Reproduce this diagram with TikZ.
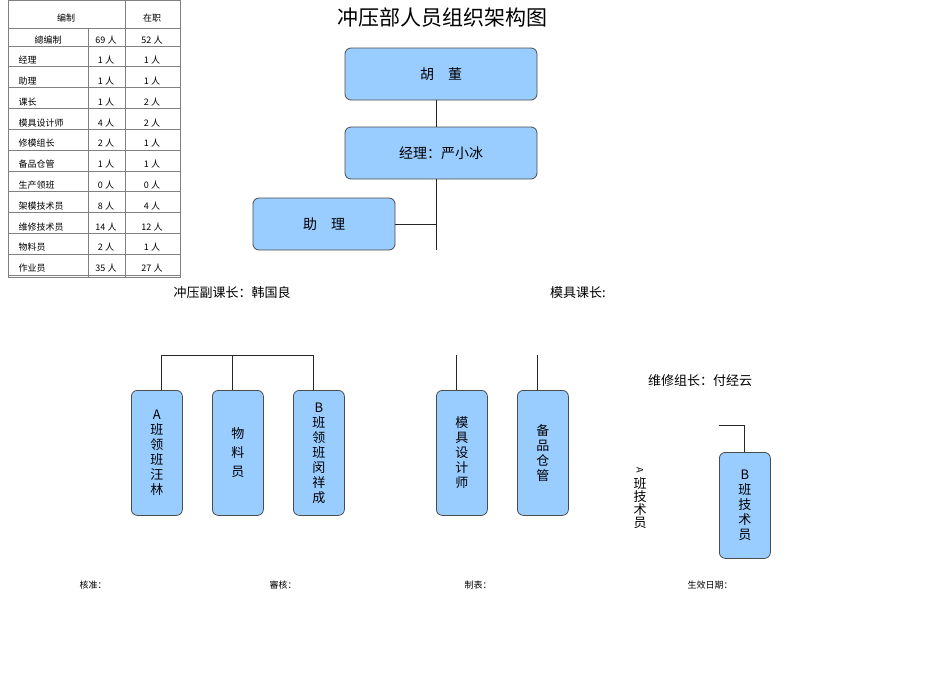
\documentclass[tikz,border=0pt]{standalone}
\usepackage{fontspec}
\setmainfont{Noto Sans CJK SC}
\begin{document}
\begin{tikzpicture}[x=1pt,y=-1pt,
  box/.style={draw=black!70,line width=0.8pt,fill=boxblue,rounded corners=6pt},
  vbox/.style={box,minimum width=51pt,minimum height=125pt,align=center,font=\fontsize{13}{15}\selectfont,inner sep=2pt,anchor=north west},
  ln/.style={line width=0.9pt,black!85},
  tl/.style={line width=0.4pt,black!50},
  tt/.style={font=\fontsize{9}{10}\selectfont}]
\definecolor{boxblue}{RGB}{153,204,255}
\useasboundingbox (0,0) rectangle (950,672);
% table
\draw[tl] (8,0) rectangle (180,277);
\draw[tl] (125,0) -- (125,277);
\draw[tl] (88,28) -- (88,277);
\foreach \y in {28,46,66,87,108,129,150,171,191,212,233,254,275} \draw[tl] (8,\y)--(180,\y);
\node[tt] at (66,18) {编制};
\node[tt] at (152,18) {在职};
\node[tt] at (48,40) {總编制}; \node[tt] at (106,40) {69 人}; \node[tt] at (152,40) {52 人};
\foreach \n/\a/\b [count=\i] in {经理/1/1,助理/1/1,课长/1/2,模具设计师/4/2,修模组长/2/1,备品仓管/1/1,生产领班/0/0,架模技术员/8/4,维修技术员/14/12,物料员/2/1,作业员/35/27}{
  \node[tt,anchor=west] at (15,{39.5+\i*20.8}) {\n};
  \node[tt] at (106,{39.5+\i*20.8}) {\a\ 人};
  \node[tt] at (152,{39.5+\i*20.8}) {\b\ 人};
}
% title
\node[font=\fontsize{21}{24}\selectfont] (title) at (442,18) {冲压部人员组织架构图};
% top boxes
\node[box,minimum width=192pt,minimum height=52pt,font=\fontsize{14}{16}\selectfont] (hu) at (441,74) {胡\quad 董};
\node[box,minimum width=192pt,minimum height=52pt,font=\fontsize{14}{16}\selectfont] (jl) at (441,153) {经理：严小冰};
\node[box,minimum width=142pt,minimum height=52pt,font=\fontsize{14}{16}\selectfont] (zl) at (324,224) {助\quad 理};
\coordinate (vend) at (436,250);
\draw[ln] (436,100) -- (436,127);
\draw[ln] (436,179) -- (vend);
\draw[ln] (zl.east) -- (436,224);
% labels
\node[font=\fontsize{13}{15}\selectfont] (fk) at (232,293) {冲压副课长：韩国良};
\node[font=\fontsize{13}{15}\selectfont] (mk) at (578,293) {模具课长:};
\node[font=\fontsize{13}{15}\selectfont] (wx) at (700,381) {维修组长：付经云};
% group 1
\node[vbox] (a) at (131,390) {A\\班\\领\\班\\汪\\林};
\node[vbox] (w) at (212,390) {物\\[4pt]料\\[4pt]员};
\node[vbox] (b) at (293,390) {B\\班\\领\\班\\闵\\祥\\成};
\coordinate (g1) at (161,355); \coordinate (g2) at (232,355); \coordinate (g3) at (313,355);
\draw[ln] (g1) -- (g3);
\draw[ln] (g1) -- (a.north -| g1);
\draw[ln] (g2) -- (w.north -| g2);
\draw[ln] (g3) -- (b.north -| g3);
% group 2
\node[vbox] (m) at (436,390) {模\\具\\设\\计\\师};
\node[vbox] (p) at (517,390) {备\\品\\仓\\管};
\coordinate (g4) at (456,355); \coordinate (g5) at (537,355);
\draw[ln] (g4) -- (m.north -| g4);
\draw[ln] (g5) -- (p.north -| g5);
% maintenance
\node[vbox,minimum height=106pt] (bt) at (719,452) {B\\班\\技\\术\\员};
\coordinate (c1) at (719,425);
\draw[ln] (c1) -- (bt.north |- c1) -- (bt.north);
\node[font=\fontsize{9}{10}\selectfont,rotate=-90] (aa) at (640,470) {A};
\node[font=\fontsize{13}{15}\selectfont,align=center,anchor=north] (at) at (640,474) {班\\[-2pt]技\\[-2pt]术\\[-2pt]员};
% footer
\foreach \t/\x in {核准：/93,審核：/283,制表：/478,生效日期：/710} \node[tt] at (\x,585) {\t};
\end{tikzpicture}
\end{document}
